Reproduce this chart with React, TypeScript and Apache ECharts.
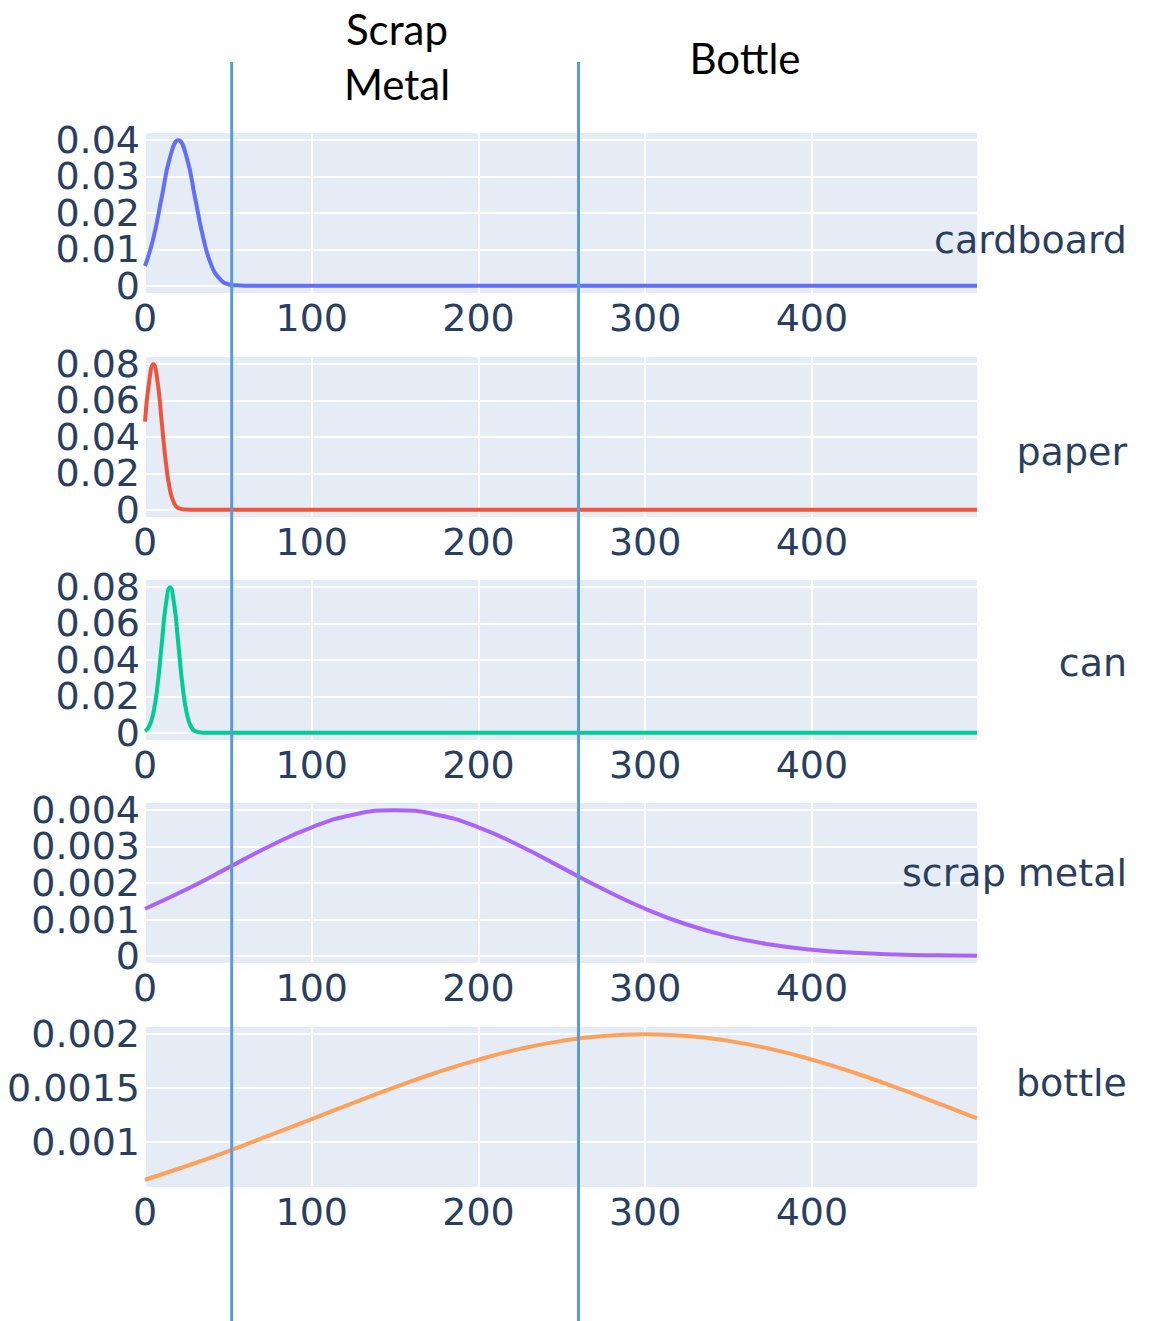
import React, { useEffect, useRef } from "react";
import * as echarts from "echarts";

// ---- data ----
const categories = ["cardboard", "paper", "can", "scrap metal", "bottle"];
const lineColors = ["#636EFA", "#EF553B", "#00CC96", "#AB63FA", "#FFA15A"];

const cardboardX = [0, 5, 10, 15, 20, 25, 30, 35, 40, 45, 50, 55, 60, 499];
const cardboardY = [0.0054, 0.013, 0.0242, 0.0352, 0.0399, 0.0352, 0.0242, 0.013, 0.0054, 0.0018, 0.0004, 0.0001, 0, 0];

const paperX = [0, 2.5, 5, 7.5, 10, 12.5, 15, 17.5, 20, 25, 30, 499];
const paperY = [0.0484, 0.0704, 0.0798, 0.0704, 0.0484, 0.026, 0.0108, 0.0035, 0.0009, 0.0001, 0, 0];

const canX = [0, 2.5, 5, 7.5, 10, 12.5, 15, 17.5, 20, 22.5, 25, 27.5, 30, 35, 40, 499];
const canY = [0.0009, 0.0035, 0.0108, 0.0259, 0.0484, 0.0704, 0.0798, 0.0704, 0.0484, 0.0259, 0.0108, 0.0035, 0.0009, 0.00003, 0, 0];

const scrapX = [0, 25, 50, 75, 100, 125, 150, 175, 200, 225, 250, 275, 300, 325, 350, 375, 400, 425, 450, 475, 499];
const scrapY = [0.001295, 0.001827, 0.00242, 0.003012, 0.003521, 0.003867, 0.003989, 0.003867, 0.003521, 0.003012, 0.00242, 0.001827, 0.001295, 0.000863, 0.00054, 0.000317, 0.000175, 0.000091, 0.000044, 0.00002, 0.000009];

const bottleX = [0, 25, 50, 75, 100, 125, 150, 175, 200, 225, 250, 275, 300, 325, 350, 375, 400, 425, 450, 475, 499];
const bottleY = [0.000648, 0.000775, 0.000913, 0.00106, 0.00121, 0.00136, 0.001506, 0.001641, 0.00176, 0.00186, 0.001934, 0.00198, 0.001995, 0.00198, 0.001934, 0.00186, 0.00176, 0.001641, 0.001506, 0.00136, 0.001216];

const seriesX = [cardboardX, paperX, canX, scrapX, bottleX];
const seriesY = [cardboardY, paperY, canY, scrapY, bottleY];

const xTicks = [0, 100, 200, 300, 400];
const xMax = 499;
const yTicks = [
  [0, 0.01, 0.02, 0.03, 0.04],
  [0, 0.02, 0.04, 0.06, 0.08],
  [0, 0.02, 0.04, 0.06, 0.08],
  [0, 0.001, 0.002, 0.003, 0.004],
  [0.001, 0.0015, 0.002],
];

const dividerValues = [52, 260];
const headerTexts = ["Scrap\nMetal", "Bottle"];

// ---- layout ----
const W = 1155;
const H = 1321;
const GRID_LEFT = 145;
const GRID_W = 832;
const GRID_TOPS = [133, 357, 580, 803, 1027];
const GRID_H = 160;
const LABEL_Y = [240, 452, 663, 873, 1083];
const TICK_FONT = "DejaVu Sans";
const TICK_COLOR = "#2a3f5f";
const TICK_SIZE = 38;

const fmt = (v: number) => String(Number(v.toPrecision(6)));

export default function App() {
  const ref = useRef<HTMLDivElement>(null);

  useEffect(() => {
    if (!ref.current) return;
    const chart = echarts.init(ref.current, null, { renderer: "svg" });

    const grids = GRID_TOPS.map((t) => ({
      left: GRID_LEFT,
      top: t,
      width: GRID_W,
      height: GRID_H,
      show: true,
      backgroundColor: "#E5ECF6",
      borderWidth: 0,
      containLabel: false,
    }));

    const xAxes = GRID_TOPS.map((_, i) => ({
      type: "value",
      gridIndex: i,
      min: 0,
      max: xMax,
      axisLine: { show: false },
      axisTick: { show: false, customValues: xTicks },
      splitLine: { show: true, customValues: xTicks, lineStyle: { color: "#ffffff", width: 2 } },
      axisLabel: {
        customValues: xTicks,
        fontSize: TICK_SIZE,
        fontFamily: TICK_FONT,
        color: TICK_COLOR,
        margin: 6,
      },
    }));

    const yAxes = GRID_TOPS.map((_, i) => {
      const ys = seriesY[i];
      const lo = Math.min(...ys);
      const hi = Math.max(...ys);
      const pad = (hi - lo) * 0.05;
      return {
        type: "value",
        gridIndex: i,
        min: lo - pad,
        max: hi + pad,
        axisLine: { show: false },
        axisTick: { show: false, customValues: yTicks[i] },
        splitLine: { show: true, customValues: yTicks[i], lineStyle: { color: "#ffffff", width: 2 } },
        axisLabel: { show: false, customValues: yTicks[i] },
      };
    });

    const series = categories.map((name, i) => ({
      name,
      type: "line",
      xAxisIndex: i,
      yAxisIndex: i,
      data: seriesX[i].map((x, k) => [x, seriesY[i][k]]),
      showSymbol: false,
      smooth: 0.5,
      lineStyle: { color: lineColors[i], width: 4 },
      z: 3,
    }));

    chart.setOption({
      animation: false,
      backgroundColor: "#ffffff",
      grid: grids,
      xAxis: xAxes,
      yAxis: yAxes,
      series,
    });

    const graphic: any[] = [];

    // y tick labels, placed through each y axis' own scale
    yTicks.forEach((ticks, i) => {
      ticks.forEach((v) => {
        const py = chart.convertToPixel({ yAxisIndex: i }, v) as number;
        graphic.push({
          type: "text",
          x: GRID_LEFT - 5,
          y: py,
          style: {
            text: fmt(v),
            font: `${TICK_SIZE}px ${TICK_FONT}`,
            fill: TICK_COLOR,
            textAlign: "right",
            textVerticalAlign: "middle",
          },
          z: 10,
        });
      });
    });

    const divX = dividerValues.map((v) => chart.convertToPixel({ xAxisIndex: 0 }, v) as number);
    divX.forEach((x) => {
      graphic.push({
        type: "line",
        shape: { x1: x, y1: 62, x2: x, y2: H },
        style: { stroke: "#5B9BD5", lineWidth: 3 },
        z: 100,
      });
    });
    graphic.push({
      type: "text",
      x: 397,
      y: 1,
      style: {
        text: headerTexts[0],
        font: "42px Lato",
        fill: "#000000",
        textAlign: "center",
        textVerticalAlign: "top",
        lineHeight: 55,
      },
      z: 100,
    });
    graphic.push({
      type: "text",
      x: 745,
      y: 58,
      style: {
        text: headerTexts[1],
        font: "42px Lato",
        fill: "#000000",
        textAlign: "center",
        textVerticalAlign: "middle",
      },
      z: 100,
    });
    categories.forEach((c, i) => {
      graphic.push({
        type: "text",
        x: 1127,
        y: LABEL_Y[i],
        style: {
          text: c,
          font: `${TICK_SIZE}px ${TICK_FONT}`,
          fill: TICK_COLOR,
          textAlign: "right",
          textVerticalAlign: "middle",
        },
        z: 50,
      });
    });

    chart.setOption({ graphic });

    return () => chart.dispose();
  }, []);

  return (
    <div
      ref={ref}
      style={{ position: "absolute", left: 0, top: 0, width: W, height: H }}
    />
  );
}
